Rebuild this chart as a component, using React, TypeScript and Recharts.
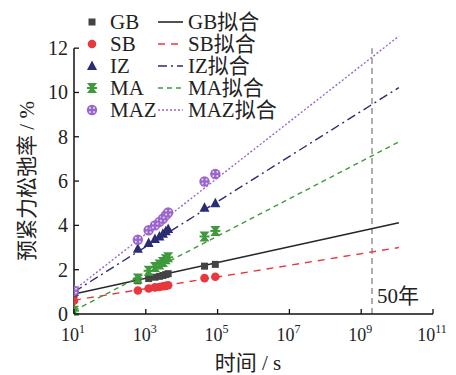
import React from 'react';
import { ComposedChart, Scatter, Line, XAxis, YAxis, ReferenceLine } from 'recharts';

// sampling times (s) and measured relaxation (%)
const sampleTimes = [10, 600, 1200, 1800, 2400, 3000, 3600, 4200, 43200, 86400];
const gbValues = [0.88, 1.5, 1.6, 1.66, 1.7, 1.74, 1.78, 1.82, 2.16, 2.24];
const sbValues = [0.6, 1.06, 1.15, 1.2, 1.22, 1.25, 1.27, 1.3, 1.62, 1.68];
const izValues = [1.0, 2.95, 3.2, 3.38, 3.5, 3.62, 3.74, 3.84, 4.8, 5.0];
const maValues = [0.15, 1.6, 1.95, 2.12, 2.24, 2.35, 2.47, 2.56, 3.5, 3.75];
const mazValues = [1.05, 3.35, 3.78, 4.0, 4.16, 4.3, 4.45, 4.58, 5.98, 6.32];

// fitted lines (linear in log t), start and end
const fitTimes = [10, 1.12e10];
const gbFit = [0.9, 4.12];
const sbFit = [0.62, 3.0];
const izFit = [1.0, 10.22];
const maFit = [0.15, 7.77];
const mazFit = [1.08, 12.54];

const xTicks = [1e1, 1e3, 1e5, 1e7, 1e9, 1e11];
const yTicks = [0, 2, 4, 6, 8, 10, 12];
const fiftyYears = 2.0e9;

const toPoints = (ts: number[], vs: number[]) => ts.map((t, i) => ({ t, v: vs[i] }));

const PLOT_LEFT = 74;
const PLOT_BOTTOM = 314;
const FONT = "'Liberation Serif', 'Times New Roman', 'DejaVu Serif', 'Noto Sans CJK SC', serif";
const txt = { fontFamily: FONT, fill: '#222' };

const COLORS = {
  gb: '#262626',
  sb: '#e8383d',
  iz: '#2b2d74',
  ma: '#3f9a3c',
  maz: '#9a66cc',
};

const Square = ({ cx, cy }: any) => <rect x={cx - 3.5} y={cy - 3.5} width={7} height={7} fill="#444" />;
const Dot = ({ cx, cy }: any) => <circle cx={cx} cy={cy} r={4.3} fill={COLORS.sb} />;
const Tri = ({ cx, cy }: any) => (
  <polygon points={`${cx},${cy - 5.5} ${cx + 5},${cy + 4} ${cx - 5},${cy + 4}`} fill={COLORS.iz} />
);
const Hourglass = ({ cx, cy }: any) => (
  <g fill={COLORS.ma}>
    <polygon points={`${cx - 5},${cy - 5} ${cx + 5},${cy - 5} ${cx + 1.2},${cy} ${cx + 5},${cy + 5} ${cx - 5},${cy + 5} ${cx - 1.2},${cy}`} />
    <rect x={cx - 5} y={cy - 1} width={10} height={2} />
  </g>
);
const Flower = ({ cx, cy }: any) => (
  <g>
    <circle cx={cx} cy={cy} r={5.2} fill={COLORS.maz} />
    <circle cx={cx - 2} cy={cy - 2} r={1} fill="#e6d6f5" />
    <circle cx={cx + 2} cy={cy - 2} r={1} fill="#e6d6f5" />
    <circle cx={cx - 2} cy={cy + 2} r={1} fill="#e6d6f5" />
    <circle cx={cx + 2} cy={cy + 2} r={1} fill="#e6d6f5" />
  </g>
);

const YTick = ({ y, payload }: any) => (
  <g>
    <line x1={PLOT_LEFT} x2={PLOT_LEFT + 5} y1={y} y2={y} stroke="#111" strokeWidth={1.3} />
    <text x={PLOT_LEFT - 6} y={y + 7} textAnchor="end" fontSize={20} style={txt}>
      {payload.value}
    </text>
  </g>
);

const XTick = ({ x, payload }: any) => {
  const exp = Math.round(Math.log10(payload.value));
  return (
    <g>
      <line x1={x} x2={x} y1={PLOT_BOTTOM} y2={PLOT_BOTTOM - 5} stroke="#111" strokeWidth={1.3} />
      <text x={x - 1} y={341} textAnchor="middle" fontSize={18} style={txt}>
        10<tspan fontSize={12} dy={-8}>{exp}</tspan>
      </text>
    </g>
  );
};

const legendRows = [
  { name: 'GB', color: COLORS.gb, Marker: Square, dash: undefined as string | undefined, y: 22 },
  { name: 'SB', color: COLORS.sb, Marker: Dot, dash: '7 6', y: 44 },
  { name: 'IZ', color: COLORS.iz, Marker: Tri, dash: '9 4 2 4', y: 66 },
  { name: 'MA', color: COLORS.ma, Marker: Hourglass, dash: '5 4', y: 88 },
  { name: 'MAZ', color: COLORS.maz, Marker: Flower, dash: '2 2', y: 110 },
];

export default function App() {
  return (
    <div style={{ position: 'absolute', left: 0, top: 0, width: 456, height: 375, background: '#fff' }}>
      <ComposedChart width={456} height={375} margin={{ top: 26, right: 23, left: 14, bottom: 21 }}>
        <XAxis
          dataKey="t"
          type="number"
          scale="log"
          domain={[10, 1e11]}
          ticks={xTicks}
          interval={0}
          allowDataOverflow
          height={40}
          tick={<XTick />}
          tickLine={false}
          axisLine={{ stroke: '#111', strokeWidth: 1.5 }}
        />
        <YAxis
          dataKey="v"
          type="number"
          domain={[0, 13]}
          ticks={yTicks}
          interval={0}
          width={60}
          tick={<YTick />}
          tickLine={false}
          axisLine={false}
        />
        <ReferenceLine segment={[{ x: 10, y: 0 }, { x: 10, y: 12 }]} stroke="#111" strokeWidth={1.5} />
        <ReferenceLine
          segment={[{ x: fiftyYears, y: 0 }, { x: fiftyYears, y: 12 }]}
          stroke="#777"
          strokeWidth={1.2}
          strokeDasharray="6 4"
        />
        <Line data={toPoints(fitTimes, gbFit)} dataKey="v" stroke={COLORS.gb} strokeWidth={1.6} dot={false} isAnimationActive={false} />
        <Line data={toPoints(fitTimes, sbFit)} dataKey="v" stroke={COLORS.sb} strokeWidth={1.4} strokeDasharray="7 6" dot={false} isAnimationActive={false} />
        <Line data={toPoints(fitTimes, izFit)} dataKey="v" stroke={COLORS.iz} strokeWidth={1.4} strokeDasharray="9 4 2 4" dot={false} isAnimationActive={false} />
        <Line data={toPoints(fitTimes, maFit)} dataKey="v" stroke={COLORS.ma} strokeWidth={1.4} strokeDasharray="5 4" dot={false} isAnimationActive={false} />
        <Line data={toPoints(fitTimes, mazFit)} dataKey="v" stroke={COLORS.maz} strokeWidth={1.4} strokeDasharray="2 2" dot={false} isAnimationActive={false} />
        <Scatter data={toPoints(sampleTimes, gbValues)} dataKey="v" shape={<Square />} isAnimationActive={false} />
        <Scatter data={toPoints(sampleTimes, sbValues)} dataKey="v" shape={<Dot />} isAnimationActive={false} />
        <Scatter data={toPoints(sampleTimes, izValues)} dataKey="v" shape={<Tri />} isAnimationActive={false} />
        <Scatter data={toPoints(sampleTimes, maValues)} dataKey="v" shape={<Hourglass />} isAnimationActive={false} />
        <Scatter data={toPoints(sampleTimes, mazValues)} dataKey="v" shape={<Flower />} isAnimationActive={false} />
      </ComposedChart>
      <svg width={456} height={375} style={{ position: 'absolute', left: 0, top: 0, pointerEvents: 'none' }}>
        {legendRows.map(({ name, color, Marker, dash, y }) => (
          <g key={name}>
            <Marker cx={92} cy={y} />
            <text x={110} y={y + 7} fontSize={21} style={txt}>{name}</text>
            <line x1={158} x2={183} y1={y} y2={y} stroke={color} strokeWidth={1.6} strokeDasharray={dash} />
            <text x={188} y={y + 7} fontSize={21} style={txt}>{name}拟合</text>
          </g>
        ))}
        <text x={377} y={303} fontSize={21} style={txt}>50年</text>
        <text x={248} y={370} textAnchor="middle" fontSize={21} style={txt}>时间 / s</text>
        <text x={27} y={181} textAnchor="middle" transform="rotate(-90 27 181) translate(0 7)" fontSize={21} style={txt}>
          预紧力松弛率 / %
        </text>
      </svg>
    </div>
  );
}
